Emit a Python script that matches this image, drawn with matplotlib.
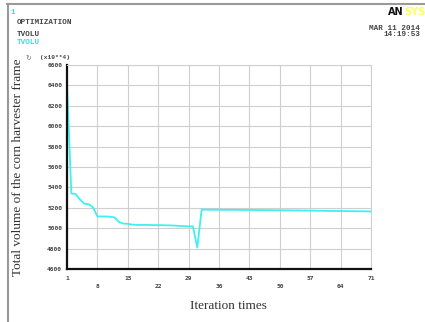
import matplotlib
matplotlib.use("Agg")
import matplotlib.pyplot as plt
from matplotlib.lines import Line2D

# ---- data ----
iterations = list(range(1, 72))
tvolu = [6420, 5340, 5335, 5280, 5240, 5235, 5205, 5115, 5115, 5115,
         5112, 5105, 5060, 5045, 5043, 5035, 5033, 5032, 5032, 5031,
         5030, 5030, 5029, 5028, 5027, 5025, 5022, 5020, 5018, 5018,
         4810, 5182, 5182, 5181, 5181, 5181, 5180, 5180, 5180, 5180,
         5179, 5179, 5179, 5178, 5178, 5178, 5177, 5177, 5176, 5176,
         5175, 5175, 5174, 5174, 5173, 5173, 5172, 5172, 5171, 5171,
         5170, 5169, 5169, 5168, 5168, 5167, 5167, 5166, 5166, 5165, 5164]
yticks = [4600, 4800, 5000, 5200, 5400, 5600, 5800, 6000, 6200, 6400, 6600]
xticks = [1, 8, 15, 22, 29, 36, 43, 50, 57, 64, 71]

W, H = 425, 322
fig = plt.figure(figsize=(W / 100, H / 100), dpi=100)
fig.patch.set_facecolor("white")

def fx(px):
    return px / W

def fy(py):
    return 1 - py / H

# window border
fig.add_artist(Line2D([fx(7), fx(425)], [fy(4), fy(4)], color="#9a9a9a", lw=1.5))
fig.add_artist(Line2D([fx(7.5), fx(7.5)], [fy(4), fy(322)], color="#9a9a9a", lw=1.5))

ax = fig.add_axes([fx(67), fy(269), fx(371) - fx(67), fy(65) - fy(269)])
ax.plot(iterations, tvolu, color="#3ef0f0", lw=1.3)
ax.set_xlim(1, 71)
ax.set_ylim(4600, 6600)
ax.set_yticks(yticks)
ax.set_xticks(xticks)
ax.grid(True, color="#cfcfcf", lw=0.8)
ax.set_axisbelow(True)
for s in ["top", "right"]:
    ax.spines[s].set_color("#cfcfcf")
    ax.spines[s].set_linewidth(0.8)
for s in ["left", "bottom"]:
    ax.spines[s].set_color("#111111")
    ax.spines[s].set_linewidth(1.6)
ax.tick_params(length=0, labelsize=4.5, colors="#444444")
ax.set_yticklabels([str(v) for v in yticks], family="DejaVu Sans Mono", fontweight="bold")
ax.set_xticklabels([])
for i, v in enumerate(xticks):
    off = 9 if i % 2 == 0 else 17
    ax.annotate(str(v), (v, 4600), xytext=(0, -off), textcoords="offset pixels",
                ha="center", va="center", fontsize=4.5, family="DejaVu Sans Mono",
                fontweight="bold", color="#444444")

ax.set_xlabel("Iteration times", family="Liberation Serif", fontsize=9.5, color="#333333")
ax.xaxis.set_label_coords(0.53, -0.15)
ax.set_ylabel("Total volume of the corn harvester frame", family="Liberation Serif",
              fontsize=9.5, color="#333333")
ax.yaxis.set_label_coords(-0.14, 0.5)

# header texts
mono = dict(family="Liberation Mono", fontweight="bold", fontsize=5.5)
fig.text(fx(10), fy(12), "1", color="#33e0e0", va="center", **mono)
fig.text(fx(17), fy(22), "OPTIMIZATION", color="#444444", va="center", **mono)
fig.text(fx(17), fy(35), "TVOLU", color="#444444", va="center", **mono)
fig.text(fx(17), fy(43), "TVOLU", color="#33e0e0", va="center", **mono)
fig.text(fx(40), fy(58), "(x10**4)", color="#444444", va="center",
         family="Liberation Mono", fontweight="bold", fontsize=4.5)
fig.text(fx(28), fy(58), "\u21bb", color="#777777", va="center", ha="center", fontsize=5)
fig.text(fx(420), fy(28), "MAR 11 2014", color="#444444", va="center", ha="right", **mono)
fig.text(fx(420), fy(35), "14:19:53", color="#444444", va="center", ha="right", **mono)
fig.text(fx(404), fy(12), "AN", color="#111111", va="center", ha="right",
         fontsize=7, fontweight="bold", family="DejaVu Sans")
fig.text(fx(404), fy(12), "SYS", color="#ffff55", va="center", ha="left",
         fontsize=7, fontweight="bold", family="DejaVu Sans")

fig.savefig("out.png", dpi=100, facecolor="white")
